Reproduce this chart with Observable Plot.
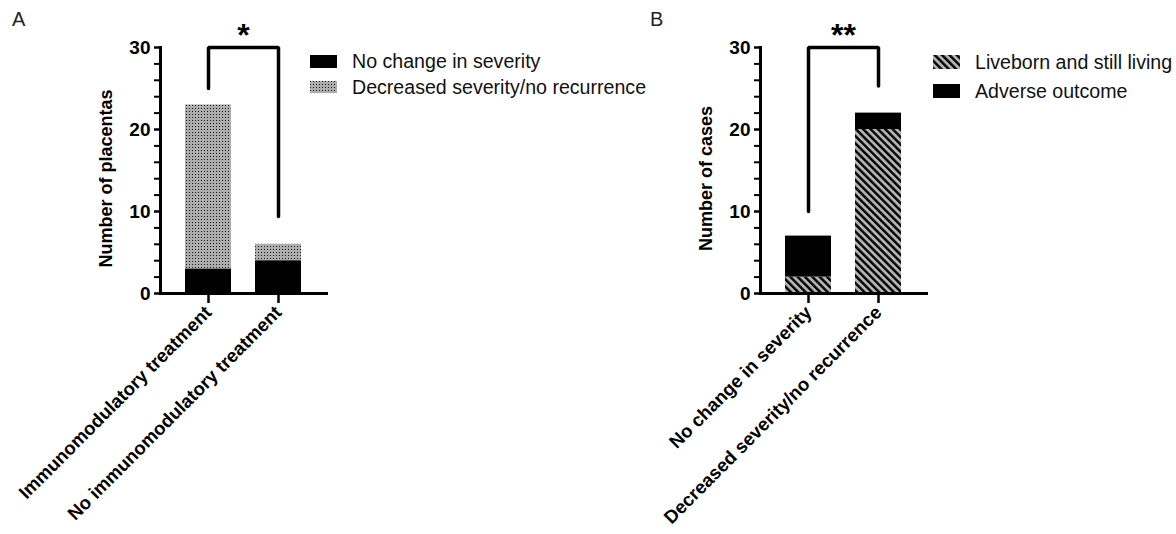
<!DOCTYPE html>
<html><head><meta charset="utf-8">
<script src="https://cdn.jsdelivr.net/npm/d3@7"></script>
<script src="https://cdn.jsdelivr.net/npm/@observablehq/plot@0.6"></script>
<style>
body{margin:0;background:#fff;font-family:"Liberation Sans",Arial,sans-serif;}
#root{position:relative;width:1176px;height:534px;overflow:hidden;background:#fff;}
.panel{position:absolute;top:0;}
.panel text{font-weight:bold;}
.letter{position:absolute;font-size:20px;line-height:20px;color:#222;}
.item{position:absolute;display:flex;align-items:center;white-space:nowrap;font-size:19.6px;color:#111;}
.item svg{margin-right:15px;display:block;}
</style></head><body><div id="root"></div>
<script>
// ---- data ----
const groupsA = ["Immunomodulatory treatment", "No immunomodulatory treatment"];
const seriesA = ["No change in severity", "Decreased severity/no recurrence"];
const noChangeA = [3, 4];
const decreasedA = [20, 2];

const groupsB = ["No change in severity", "Decreased severity/no recurrence"];
const seriesB = ["Liveborn and still living", "Adverse outcome"];
const liveB = [2, 20];
const adverseB = [5, 2];

const yMajorTicks = [0, 10, 20, 30];
const yMinorTicks = [0, 2, 4, 6, 8, 10, 12, 14, 16, 18, 20, 22, 24, 26, 28, 30];
const yDomain = [0, 30];

const bracketAY = [25, 30, 30, 9.4];
const bracketBY = [10, 30, 30, 25.3];
const starsA = "*";
const starsB = "**";
const yLabelA = "Number of placentas";
const yLabelB = "Number of cases";

// ---- build ----
const root = document.getElementById("root");
const FONT = '"Liberation Sans", Arial, sans-serif';

function defs(suffix) {
  return `<defs>
  <pattern id="dotsPat${suffix}" patternUnits="userSpaceOnUse" width="3" height="3">
    <rect width="3" height="3" fill="#adadad"/>
    <rect x="0" y="0" width="1" height="1" fill="#1a1a1a"/>
  </pattern>
  <pattern id="hatchPat${suffix}" patternUnits="userSpaceOnUse" width="5.2" height="5.2" patternTransform="rotate(-45)">
    <rect width="5.2" height="5.2" fill="#b3b3b3"/>
    <rect x="0" y="0" width="2.4" height="5.2" fill="#000"/>
  </pattern></defs>`;
}

function panel(groups, series, bottomVals, topVals, fills, bracketY, stars, yLabel, left) {
  const rows = [];
  groups.forEach((g, i) => {
    rows.push({group: g, series: series[0], value: bottomVals[i], fill: fills[0]});
    rows.push({group: g, series: series[1], value: topVals[i], fill: fills[1]});
  });
  const bracket = [groups[0], groups[0], groups[1], groups[1]].map((g, i) => ({group: g, y: bracketY[i]}));
  const chart = Plot.plot({
    width: 588, height: 534,
    marginLeft: 160, marginRight: 262, marginTop: 47, marginBottom: 241,
    style: {fontFamily: FONT, fontSize: "18px", fontWeight: "bold", color: "#000", background: "transparent", overflow: "visible"},
    x: {domain: groups, padding: 0.34, label: null},
    y: {domain: yDomain, label: null},
    color: {type: "identity"},
    marks: [
      Plot.barY(rows, {x: "group", y: "value", fill: "fill"}),
      Plot.axisY({ticks: yMinorTicks, tickSize: 6, tickFormat: () => "", strokeWidth: 2, label: null}),
      Plot.axisY({ticks: yMajorTicks, tickSize: 6, tickPadding: 4, strokeWidth: 2, fontSize: 19, fontWeight: "bold", label: null}),
      Plot.text([yLabel], {frameAnchor: "left", textAnchor: "middle", rotate: -90, dx: -54, dy: 8, text: d => d, fontSize: 18, fontWeight: "bold", fill: "#000"}),
      Plot.frame({anchor: "left", strokeWidth: 3}),
      Plot.frame({anchor: "bottom", strokeWidth: 3}),
      Plot.axisX({tickSize: 10, strokeWidth: 2.5, tickRotate: -45, tickPadding: 6, fontSize: 18.6, fontWeight: "bold", label: null}),
      Plot.line(bracket, {x: "group", y: "y", strokeWidth: 3.5, strokeLinejoin: "miter"}),
      Plot.text([stars], {x: () => groups[0], y: () => 30, text: d => d, dx: 35, dy: -2, fontSize: 32, fontWeight: "bold", lineAnchor: "bottom"})
    ]
  });
  chart.classList.add("panel");
  chart.style.left = left + "px";
  chart.insertAdjacentHTML("afterbegin", defs(left));
  root.appendChild(chart);
}

panel(groupsA, seriesA, noChangeA, decreasedA, ["#000", "url(#dotsPat0)"], bracketAY, starsA, yLabelA, 0);
panel(groupsB, seriesB, liveB, adverseB, ["url(#hatchPat600)", "#000"], bracketBY, starsB, yLabelB, 600);

function letter(t, x, y) {
  const d = document.createElement("div");
  d.className = "letter"; d.textContent = t;
  d.style.left = x + "px"; d.style.top = y + "px";
  root.appendChild(d);
}
letter("A", 12, 9);
letter("B", 650, 9);

function legendItem(label, fill, x, yCenter, h) {
  const d = document.createElement("div");
  d.className = "item";
  d.style.left = x + "px"; d.style.top = (yCenter - 12) + "px"; d.style.height = "24px";
  d.innerHTML = `<svg width="27" height="${h}"><rect width="27" height="${h}" fill="${fill}"/></svg><span>${label}</span>`;
  root.appendChild(d);
}
legendItem(seriesA[0], "#000", 310, 61.5, 13);
legendItem(seriesA[1], "url(#dotsPat0)", 310, 87, 12);
legendItem(seriesB[0], "url(#hatchPat600)", 933, 62, 14);
legendItem(seriesB[1], "#000", 933, 91, 14);
</script></body></html>
